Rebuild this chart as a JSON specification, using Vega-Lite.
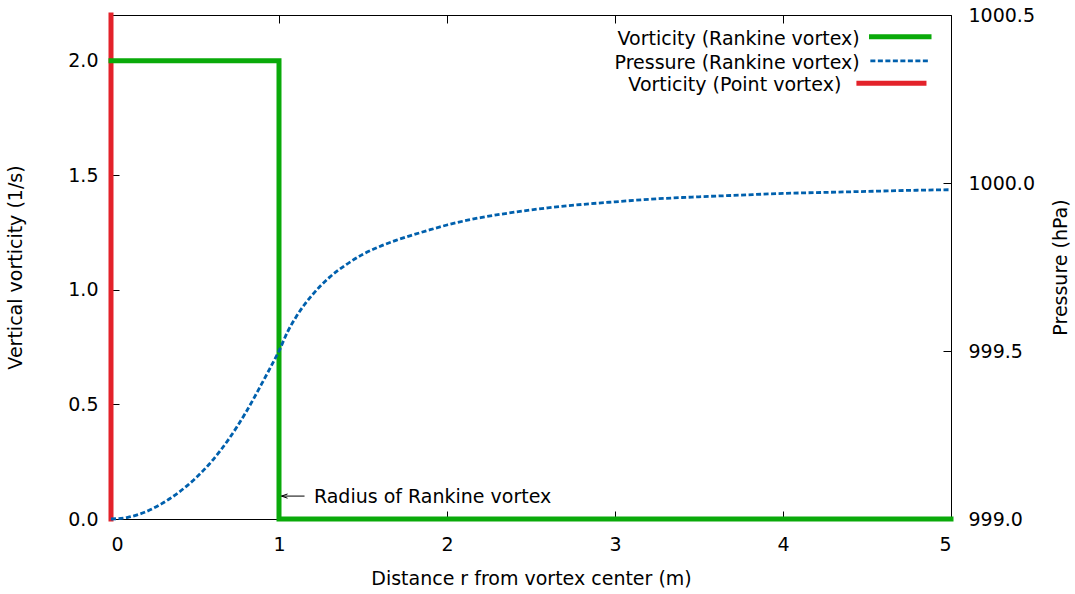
{
  "$schema": "https://vega.github.io/schema/vega-lite/v6.json",
  "width": 840,
  "height": 504,
  "autosize": {"type": "none"},
  "padding": {"left": 111, "top": 15, "right": 124, "bottom": 75},
  "background": "white",
  "config": {
    "font": "DejaVu Sans",
    "view": {"stroke": "#000", "strokeWidth": 1},
    "axis": {
      "labelFont": "DejaVu Sans",
      "labelFontSize": 19,
      "labelColor": "#000",
      "titleFont": "DejaVu Sans",
      "titleFontSize": 19,
      "titleFontWeight": "normal",
      "titleColor": "#000",
      "tickColor": "#000",
      "tickWidth": 1,
      "tickSize": -8,
      "domain": false,
      "grid": false
    }
  },
  "datasets": {
    "rankine_vorticity": [
      {"r": 0, "vorticity": 2},
      {"r": 1, "vorticity": 2},
      {"r": 1, "vorticity": 0},
      {"r": 5, "vorticity": 0}
    ],
    "point_vorticity": [
      {"r": 0, "vorticity": 0},
      {"r": 0, "vorticity": 2.2}
    ],
    "rankine_pressure": [
      {"r": 0, "pressure": 999.000},
      {"r": 0.1, "pressure": 999.005},
      {"r": 0.2, "pressure": 999.020},
      {"r": 0.3, "pressure": 999.045},
      {"r": 0.4, "pressure": 999.078},
      {"r": 0.5, "pressure": 999.120},
      {"r": 0.6, "pressure": 999.172},
      {"r": 0.7, "pressure": 999.237},
      {"r": 0.8, "pressure": 999.315},
      {"r": 0.9, "pressure": 999.405},
      {"r": 0.95, "pressure": 999.452},
      {"r": 1.0, "pressure": 999.500},
      {"r": 1.05, "pressure": 999.556},
      {"r": 1.1, "pressure": 999.600},
      {"r": 1.15, "pressure": 999.637},
      {"r": 1.2, "pressure": 999.668},
      {"r": 1.3, "pressure": 999.719},
      {"r": 1.4, "pressure": 999.757},
      {"r": 1.5, "pressure": 999.788},
      {"r": 1.6, "pressure": 999.811},
      {"r": 1.7, "pressure": 999.830},
      {"r": 1.8, "pressure": 999.846},
      {"r": 1.9, "pressure": 999.861},
      {"r": 2.0, "pressure": 999.875},
      {"r": 2.2, "pressure": 999.897},
      {"r": 2.4, "pressure": 999.913},
      {"r": 2.6, "pressure": 999.926},
      {"r": 2.8, "pressure": 999.936},
      {"r": 3.0, "pressure": 999.944},
      {"r": 3.25, "pressure": 999.953},
      {"r": 3.5, "pressure": 999.959},
      {"r": 3.75, "pressure": 999.964},
      {"r": 4.0, "pressure": 999.969},
      {"r": 4.25, "pressure": 999.972},
      {"r": 4.5, "pressure": 999.975},
      {"r": 4.75, "pressure": 999.978},
      {"r": 5.0, "pressure": 999.980}
    ]
  },
  "layer": [
    {
      "layer": [
        {
          "data": {"name": "point_vorticity"},
          "mark": {"type": "line", "color": "#e3222a", "strokeWidth": 5, "strokeCap": "square"},
          "encoding": {
            "x": {
              "field": "r", "type": "quantitative",
              "scale": {"domain": [0, 5], "nice": false},
              "axis": {
                "orient": "bottom", "values": [0, 1, 2, 3, 4, 5], "format": "d",
                "labelPadding": 24, "title": "Distance r from vortex center (m)", "titlePadding": 15
              }
            },
            "y": {
              "field": "vorticity", "type": "quantitative",
              "scale": {"domain": [0, 2.2], "nice": false},
              "axis": {
                "orient": "left", "values": [0, 0.5, 1, 1.5, 2], "format": ".1f",
                "labelPadding": 21, "title": "Vertical vorticity (1/s)", "titlePadding": 42
              }
            },
            "order": {"value": null}
          }
        },
        {
          "mark": {"type": "rule", "color": "#000", "strokeWidth": 1},
          "encoding": {"x": {"datum": 1, "type": "quantitative"}}
        },
        {
          "data": {"name": "rankine_vorticity"},
          "mark": {"type": "line", "color": "#0aaa0a", "strokeWidth": 5, "strokeCap": "square", "strokeJoin": "miter"},
          "encoding": {
            "x": {"field": "r", "type": "quantitative", "title": "Distance r from vortex center (m)"},
            "y": {"field": "vorticity", "type": "quantitative", "title": "Vertical vorticity (1/s)"},
            "order": {"value": null}
          }
        },
        {
          "data": {"values": [{"note": "Radius of Rankine vortex"}]},
          "layer": [
            {
              "mark": {"type": "rule", "color": "#000", "strokeWidth": 1},
              "encoding": {
                "x": {"datum": 1.015, "type": "quantitative"},
                "x2": {"datum": 1.152},
                "y": {"datum": 0.1, "type": "quantitative"}
              }
            },
            {
              "mark": {"type": "point", "shape": "M0,0L2,-0.7M0,0L2,0.7", "size": 36, "filled": false, "stroke": "#000", "strokeWidth": 1, "opacity": 1},
              "encoding": {
                "x": {"datum": 1.015, "type": "quantitative"},
                "y": {"datum": 0.1, "type": "quantitative"}
              }
            },
            {
              "mark": {"type": "text", "align": "left", "baseline": "middle", "fontSize": 19, "font": "DejaVu Sans", "color": "#000", "dy": 1},
              "encoding": {
                "x": {"datum": 1.208, "type": "quantitative"},
                "y": {"datum": 0.1, "type": "quantitative"},
                "text": {"field": "note"}
              }
            }
          ]
        },
        {
          "data": {"values": [{"label": "Vorticity (Rankine vortex)"}]},
          "layer": [
            {
              "mark": {"type": "text", "align": "right", "baseline": "middle", "fontSize": 19, "font": "DejaVu Sans", "color": "#000", "dy": 2},
              "encoding": {
                "x": {"datum": 4.457, "type": "quantitative"},
                "y": {"datum": 2.105, "type": "quantitative"},
                "text": {"field": "label"}
              }
            },
            {
              "mark": {"type": "rule", "color": "#0aaa0a", "strokeWidth": 5},
              "encoding": {
                "x": {"datum": 4.512, "type": "quantitative"},
                "x2": {"datum": 4.884},
                "y": {"datum": 2.105, "type": "quantitative"}
              }
            }
          ]
        },
        {
          "data": {"values": [{"label": "Pressure (Rankine vortex)"}]},
          "layer": [
            {
              "mark": {"type": "text", "align": "right", "baseline": "middle", "fontSize": 19, "font": "DejaVu Sans", "color": "#000", "dy": 2},
              "encoding": {
                "x": {"datum": 4.457, "type": "quantitative"},
                "y": {"datum": 2.0, "type": "quantitative"},
                "text": {"field": "label"}
              }
            },
            {
              "mark": {"type": "rule", "color": "#0060ad", "strokeWidth": 2.8, "strokeDash": [5, 2.5]},
              "encoding": {
                "x": {"datum": 4.52, "type": "quantitative"},
                "x2": {"datum": 4.873},
                "y": {"datum": 2.0, "type": "quantitative"}
              }
            }
          ]
        },
        {
          "data": {"values": [{"label": "Vorticity (Point vortex)"}]},
          "layer": [
            {
              "mark": {"type": "text", "align": "right", "baseline": "middle", "fontSize": 19, "font": "DejaVu Sans", "color": "#000", "dy": 2},
              "encoding": {
                "x": {"datum": 4.347, "type": "quantitative"},
                "y": {"datum": 1.902, "type": "quantitative"},
                "text": {"field": "label"}
              }
            },
            {
              "mark": {"type": "rule", "color": "#e3222a", "strokeWidth": 5},
              "encoding": {
                "x": {"datum": 4.437, "type": "quantitative"},
                "x2": {"datum": 4.854},
                "y": {"datum": 1.902, "type": "quantitative"}
              }
            }
          ]
        }
      ]
    },
    {
      "data": {"name": "rankine_pressure"},
      "mark": {"type": "line", "color": "#0060ad", "strokeWidth": 2.8, "strokeDash": [5, 2.5], "interpolate": "monotone"},
      "encoding": {
        "x": {
          "field": "r", "type": "quantitative",
          "axis": {"orient": "top", "values": [0, 1, 2, 3, 4, 5], "labels": false, "title": null}
        },
        "y": {
          "field": "pressure", "type": "quantitative",
          "scale": {"domain": [999, 1000.5], "nice": false},
          "axis": {
            "orient": "right", "values": [999, 999.5, 1000, 1000.5], "format": ".1f",
            "labelPadding": 25, "title": "Pressure (hPa)", "titlePadding": 17,
            "titleAngle": -90, "titleBaseline": "top"
          }
        }
      }
    }
  ],
  "resolve": {"scale": {"y": "independent"}, "axis": {"x": "independent"}}
}
